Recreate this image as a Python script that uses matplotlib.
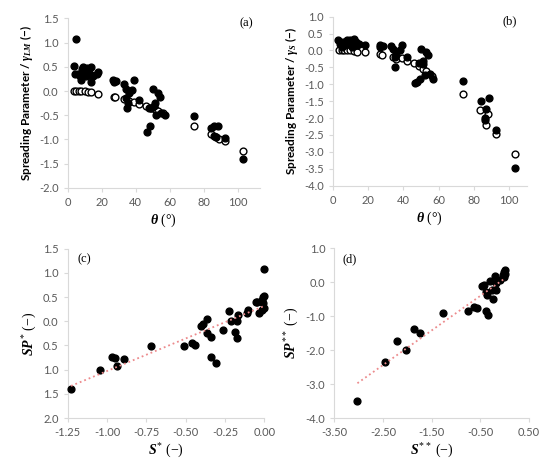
import numpy as np
import matplotlib
matplotlib.use('Agg')
import matplotlib.pyplot as plt

plt.rcParams['font.family'] = ['Lato', 'DejaVu Sans']
plt.rcParams['mathtext.fontset'] = 'custom'
plt.rcParams['mathtext.it'] = 'Liberation Serif:italic:bold'
plt.rcParams['mathtext.rm'] = 'Liberation Serif'
plt.rcParams['mathtext.bf'] = 'Liberation Serif:bold'

# (a) gamma_LM vs theta
a_theta_fill = [3.5, 4.5, 5, 6, 7, 8, 8.5, 9, 10, 11, 11.5, 12, 13, 13.5, 14, 15, 17, 18,
                26.5, 27, 28.5, 33, 34, 34.5, 35, 35.5, 36, 38, 39, 42,
                46.5, 48.5, 48, 50, 50.5, 51, 52, 53, 54, 55, 57, 49,
                74, 84, 86, 86, 88, 87, 92.5, 103]
a_gam_fill = [0.52, 0.35, 1.07, 0.35, 0.3, 0.22, 0.45, 0.5, 0.38, 0.3, 0.48, 0.42, 0.35, 0.5, 0.18, 0.3, 0.35, 0.4,
              0.23, 0.18, 0.2, 0.14, 0.05, -0.15, -0.35, -0.25, -0.05, 0.02, 0.22, -0.18,
              -0.85, -0.72, -0.35, 0.05, -0.3, -0.25, -0.5, -0.05, -0.12, -0.45, -0.5, -0.35,
              -0.51, -0.76, -0.92, -0.73, -0.72, -0.95, -0.98, -1.41]
a_theta_open = [3.5, 5, 6.5, 8, 10, 12, 14, 18, 27, 28, 33, 36, 39, 42, 46, 49, 51, 53, 56,
                74, 84, 87, 89, 92.5, 103]
a_gam_open = [0, 0, 0, 0, 0, -0.02, -0.03, -0.06, -0.12, -0.13, -0.17, -0.2, -0.23, -0.26, -0.31, -0.35, -0.38, -0.42, -0.46,
              -0.73, -0.89, -0.96, -0.99, -1.04, -1.24]

# (b) gamma_S vs theta
b_theta_fill = [3, 4, 5, 6, 7, 8, 9, 10, 11, 12, 13, 14, 15, 18,
                26.5, 27, 28.5, 33, 34, 35, 35.5, 36, 38, 39, 42,
                46.5, 48, 49, 49.5, 50, 51, 52, 53, 54, 55, 57, 51,
                74, 84, 86, 87, 88.5, 86.5, 92.5, 103]
b_gam_fill = [0.3, 0.2, 0.1, 0.25, 0.15, 0.3, 0.2, 0.3, 0.1, 0.35, 0.25, 0.15, 0.2, 0.17,
              0.15, 0.1, 0.13, 0.12, 0.05, -0.48, -0.2, -0.1, 0.0, 0.17, -0.18,
              -0.97, -0.92, -0.37, -0.85, 0.03, -0.3, -0.72, -0.05, -0.12, -0.7, -0.83, -0.4,
              -0.9, -1.48, -2.0, -1.72, -1.4, -2.05, -2.35, -3.48]
b_theta_open = [3.5, 5, 6.5, 8, 10, 12, 14, 18, 27, 28, 34, 36, 39, 42, 46, 49, 51, 53, 56,
                74, 83.5, 87, 88, 92.5, 103]
b_gam_open = [0, 0, 0, 0, 0, -0.02, -0.03, -0.05, -0.1, -0.12, -0.2, -0.25, -0.22, -0.3, -0.38, -0.45, -0.55, -0.6, -0.75,
              -1.3, -1.75, -2.2, -1.87, -2.47, -3.05]

# (c) SP* vs S*
c_s = [-1.229, -1.045, -0.968, -0.95, -0.894, -0.934, -0.722, -0.508, -0.458, -0.44,
       -0.405, -0.392, -0.364, -0.366, -0.341, -0.341, -0.309, -0.263, -0.222, -0.214,
       -0.184, -0.174, -0.172, -0.167, -0.112, -0.104, -0.053, -0.044, -0.032, -0.017,
       -0.013, -0.006, 0.0, 0.0, -0.006, 0.0]
c_sp = [-1.41, -1.0, -0.73, -0.75, -0.77, -0.93, -0.51, -0.51, -0.45, -0.5,
        -0.09, -0.05, 0.045, -0.24, -0.32, -0.73, -0.86, -0.18, 0.21, 0.0,
        -0.22, -0.34, 0.01, 0.13, 0.18, 0.24, 0.39, 0.4, 0.17, 0.24,
        0.44, 0.51, 1.08, 0.53, 0.38, 0.27]

# (d) SP** vs S**
d_s = [-3.027, -2.46, -2.21, -2.03, -1.86, -1.74, -1.27, -0.75, -0.64, -0.57,
       -0.46, -0.42, -0.39, -0.37, -0.39, -0.34, -0.31, -0.27, -0.25, -0.2,
       -0.17, -0.18, -0.1, -0.03, -0.01, -0.01, 0.0, 0.0]
d_sp = [-3.5, -2.35, -1.73, -2.01, -1.39, -1.49, -0.91, -0.85, -0.73, -0.77,
        -0.12, -0.07, -0.29, -0.36, -0.84, -0.95, 0.05, -0.22, -0.48, 0.18,
        -0.02, -0.24, 0.08, 0.23, 0.3, 0.16, 0.37, 0.25]

c_yticks = [1.5, 1.0, 0.5, 0.0, -0.5, -1.0, -1.5, -2.0]
c_ylabels = ['1.5', '1.0', '0.5', '0.0', '0.5', '1.0', '1.5', '2.0']

grey = '#d9d9d9'
tgrey = '#595959'
fig = plt.figure(figsize=(5.5, 4.66), dpi=100)


def style(ax):
    for s in ['top', 'right']:
        ax.spines[s].set_visible(False)
    for s in ['left', 'bottom']:
        ax.spines[s].set_color(grey)
        ax.spines[s].set_linewidth(0.8)
    ax.tick_params(colors=grey, labelcolor=tgrey, labelsize=8, length=3, width=0.8)


ms = 24
ax = fig.add_axes([0.123, 0.597, 0.35, 0.3635])
ax.scatter(a_theta_open, a_gam_open, s=ms, facecolor='white', edgecolor='black', linewidth=1, zorder=2)
ax.scatter(a_theta_fill, a_gam_fill, s=ms, color='black', zorder=3)
ax.set_xlim(0, 113)
ax.set_ylim(-2.0, 1.5)
ax.set_xticks(np.arange(0, 101, 20))
ax.set_yticks(np.arange(-2.0, 1.51, 0.5))
ax.yaxis.set_major_formatter(matplotlib.ticker.FormatStrFormatter('%.1f'))
style(ax)
ax.set_ylabel(r'Spreading Parameter / $\gamma_{LM}$ (−)', fontsize=8.5, fontweight='bold', labelpad=3)
ax.set_xlabel(r'$\theta$ (°)', fontsize=10, family='Liberation Serif', labelpad=3)
ax.text(0.93, 0.97, '(a)', transform=ax.transAxes, family='Liberation Serif', fontsize=9, ha='center', va='center')

ax = fig.add_axes([0.605, 0.6015, 0.353, 0.3627])
ax.scatter(b_theta_open, b_gam_open, s=ms, facecolor='white', edgecolor='black', linewidth=1, zorder=2)
ax.scatter(b_theta_fill, b_gam_fill, s=ms, color='black', zorder=3)
ax.set_xlim(0, 110)
ax.set_ylim(-4.0, 1.0)
ax.set_xticks(np.arange(0, 101, 20))
ax.set_yticks(np.arange(-4.0, 1.01, 0.5))
ax.yaxis.set_major_formatter(matplotlib.ticker.FormatStrFormatter('%.1f'))
style(ax)
ax.set_ylabel(r'Spreading Parameter / $\gamma_{S}$ (−)', fontsize=8.5, fontweight='bold', labelpad=3)
ax.set_xlabel(r'$\theta$ (°)', fontsize=10, family='Liberation Serif', labelpad=3)
ax.text(0.91, 0.97, '(b)', transform=ax.transAxes, family='Liberation Serif', fontsize=9, ha='center', va='center')

ax = fig.add_axes([0.123, 0.103, 0.3575, 0.3633])
ax.scatter(c_s, c_sp, s=ms, color='black', zorder=3, clip_on=False)
k, b = np.polyfit(c_s, c_sp, 1)
xx = np.array([min(c_s), max(c_s)])
ax.plot(xx, k * xx + b, color='#ec8a8c', linestyle=':', linewidth=1.3, zorder=4)
ax.set_xlim(-1.25, 0.0)
ax.set_ylim(-2.0, 1.5)
ax.set_xticks(np.arange(-1.25, 0.01, 0.25))
ax.xaxis.set_major_formatter(matplotlib.ticker.FormatStrFormatter('%.2f'))
ax.set_yticks(c_yticks)
ax.set_yticklabels(c_ylabels)
style(ax)
ax.set_ylabel(r'$SP^{*}$ (−)', fontsize=10, family='Liberation Serif', labelpad=3)
ax.set_xlabel(r'$S^{*}$ (−)', fontsize=10, family='Liberation Serif', labelpad=3)
ax.text(0.085, 0.935, '(c)', transform=ax.transAxes, family='Liberation Serif', fontsize=9, ha='center', va='center')

ax = fig.add_axes([0.608, 0.103, 0.354, 0.364])
ax.scatter(d_s, d_sp, s=ms, color='black', zorder=3)
k, b = np.polyfit(d_s, d_sp, 1)
xx = np.array([min(d_s), max(d_s)])
ax.plot(xx, k * xx + b, color='#ec8a8c', linestyle=':', linewidth=1.3, zorder=4)
ax.set_xlim(-3.5, 0.5)
ax.set_ylim(-4.0, 1.0)
ax.set_xticks(np.arange(-3.5, 0.51, 1.0))
ax.xaxis.set_major_formatter(matplotlib.ticker.FormatStrFormatter('%.2f'))
ax.set_yticks(np.arange(-4.0, 1.01, 1.0))
ax.yaxis.set_major_formatter(matplotlib.ticker.FormatStrFormatter('%.1f'))
style(ax)
ax.set_ylabel(r'$SP^{**}$ (−)', fontsize=10, family='Liberation Serif', labelpad=3)
ax.set_xlabel(r'$S^{**}$ (−)', fontsize=10, family='Liberation Serif', labelpad=3)
ax.text(0.08, 0.935, '(d)', transform=ax.transAxes, family='Liberation Serif', fontsize=9, ha='center', va='center')

fig.savefig('out.png', dpi=100)
